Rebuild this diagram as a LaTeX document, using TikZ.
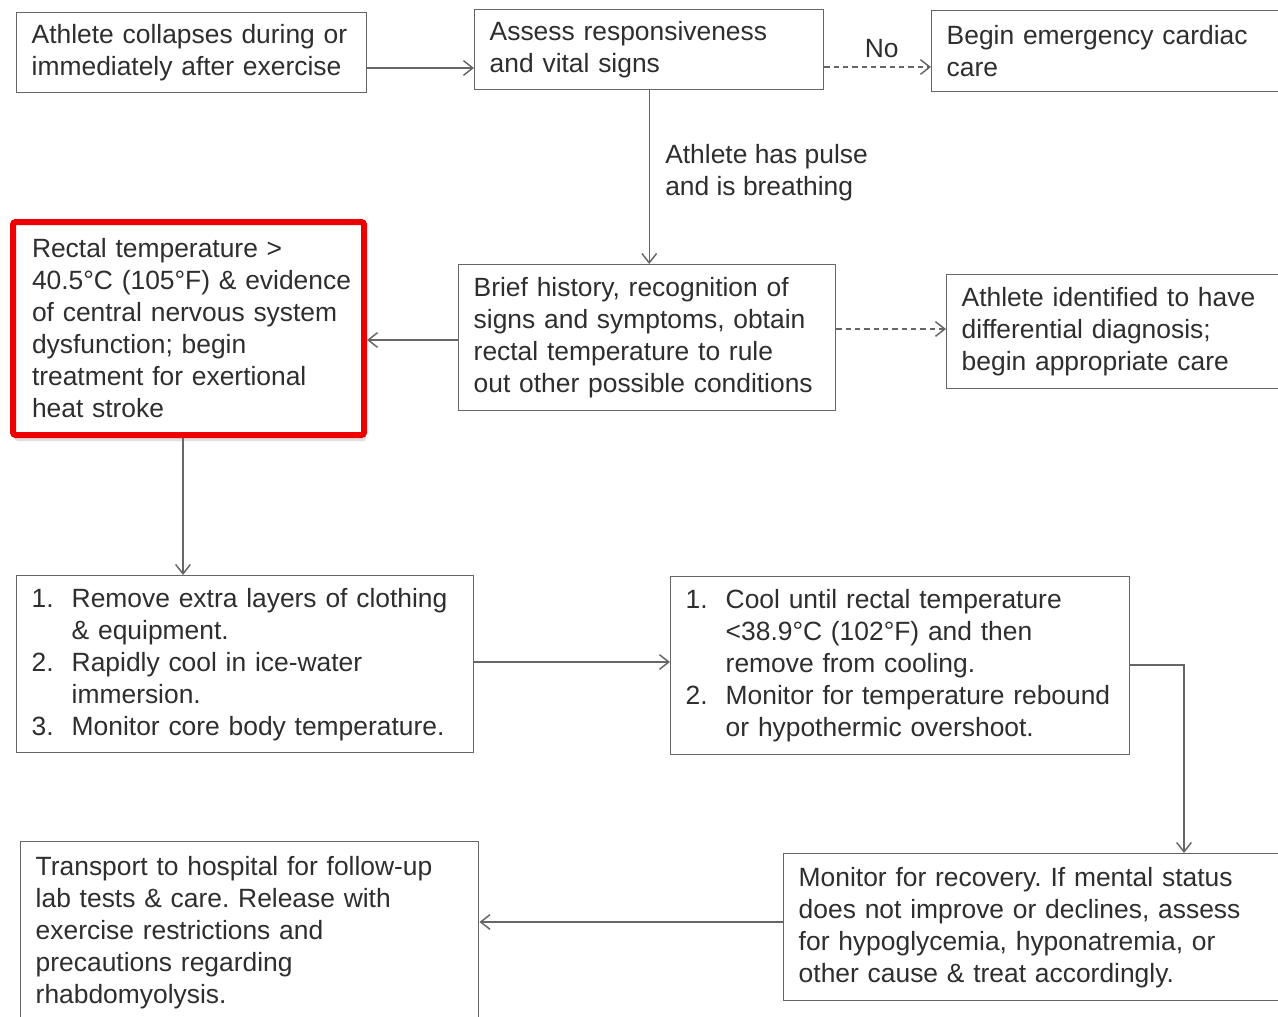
\documentclass[tikz,border=0pt]{standalone}
\usepackage{fontspec}
\setmainfont{Liberation Sans}
\usetikzlibrary{arrows.meta,shadows}
\definecolor{ln}{HTML}{666666}
\definecolor{tx}{HTML}{2E2E2E}
\definecolor{hot}{HTML}{EE0000}
\newcommand{\itm}[1]{\makebox[30pt][l]{#1}}
\newcommand{\ind}{\hspace*{30pt}}
\frenchspacing
\begin{document}
\begin{tikzpicture}[x=0.75pt,y=-0.75pt,
  every node/.style={text=tx,font=\fontsize{19.8}{24}\selectfont},
  box/.style={draw=ln,line width=1.1pt,anchor=north west,align=left,inner xsep=11.25pt,inner ysep=0pt,fill=white},
  conn/.style={draw=ln,line width=1.1pt,-{Straight Barb[length=7pt,width=11pt,line width=1.1pt]}},
  dconn/.style={conn,dash pattern=on 4pt off 3pt}]
\useasboundingbox (0,0) rectangle (1278,1017);
\clip (0,0) rectangle (1278,1017);
\fill[white] (0,0) rectangle (1278,1017);
\node[box,minimum width=262.5pt,text width=240pt,minimum height=60pt] (A) at (16,12)
  {Athlete collapses during or\\immediately after exercise};
\node[box,minimum width=261.75pt,text width=239.25pt,minimum height=60pt] (B) at (474,9)
  {Assess responsiveness\\and vital signs};
\node[box,minimum width=270pt,text width=247.5pt,minimum height=60.75pt] (C) at (931,10)
  {Begin emergency cardiac\\care};
\node[box,draw=hot,line width=4.5pt,rounded corners=2pt,inner xsep=14.25pt,
  minimum width=263.25pt,text width=234.75pt,minimum height=159.75pt,
  drop shadow={opacity=0.25,shadow xshift=1.5pt,shadow yshift=-4.5pt}] (D) at (10,219)
  {\mbox{Rectal temperature >}\\\mbox{40.5°C (105°F) \& evidence}\\\mbox{of central nervous system}\\\mbox{dysfunction; begin}\\\mbox{treatment for exertional}\\\mbox{heat stroke}};
\node[box,minimum width=282.75pt,text width=260.25pt,minimum height=109.5pt] (E) at (458,264)
  {Brief history, recognition of\\signs and symptoms, obtain\\rectal temperature to rule\\out other possible conditions};
\node[box,minimum width=258.75pt,text width=236.25pt,minimum height=85.5pt] (F) at (946,274)
  {Athlete identified to have\\differential diagnosis;\\begin appropriate care};
\node[box,minimum width=342.75pt,text width=320.25pt,minimum height=132.75pt] (G) at (16,575)
  {\itm{1.}Remove extra layers of clothing\\\ind\& equipment.\\\itm{2.}Rapidly cool in ice-water\\\ind immersion.\\\itm{3.}Monitor core body temperature.};
\node[box,minimum width=344.25pt,text width=321.75pt,minimum height=133.5pt] (H) at (670,576)
  {\itm{1.}Cool until rectal temperature\\\ind <38.9°C (102°F) and then\\\ind remove from cooling.\\\itm{2.}Monitor for temperature rebound\\\ind or hypothermic overshoot.};
\node[box,minimum width=382.5pt,text width=360pt,minimum height=110.25pt] (I) at (783,853)
  {Monitor for recovery. If mental status\\does not improve or declines, assess\\for hypoglycemia, hyponatremia, or\\other cause \& treat accordingly.};
\node[box,minimum width=343.5pt,text width=321pt,minimum height=135.75pt] (J) at (20,841)
  {Transport to hospital for follow-up\\lab tests \& care. Release with\\exercise restrictions and\\precautions regarding\\rhabdomyolysis.};
\draw[conn] (A.east |- 0,68) -- (B.west |- 0,68);
\draw[dconn] (B.east |- 0,67) -- node[above=3pt,xshift=3pt] (no) {No} (C.west |- 0,67);
\draw[conn] (B.south) -- (B.south |- E.north);
\node[anchor=west,align=left,inner sep=0pt] (lbl) at (665,173) {Athlete has pulse\\and is breathing};
\draw[conn] (E.west |- 0,340) -- (D.east |- 0,340);
\draw[dconn] (E.east |- 0,329) -- (F.west |- 0,329);
\draw[conn] (D.south -| 183,0) -- (G.north -| 183,0);
\draw[conn] (G.east |- 0,662) -- (H.west |- 0,662);
\draw[conn] (H.east |- 0,665) -| (I.north -| 1184,0);
\draw[conn] (I.west |- 0,922) -- (J.east |- 0,922);
\end{tikzpicture}
\end{document}
